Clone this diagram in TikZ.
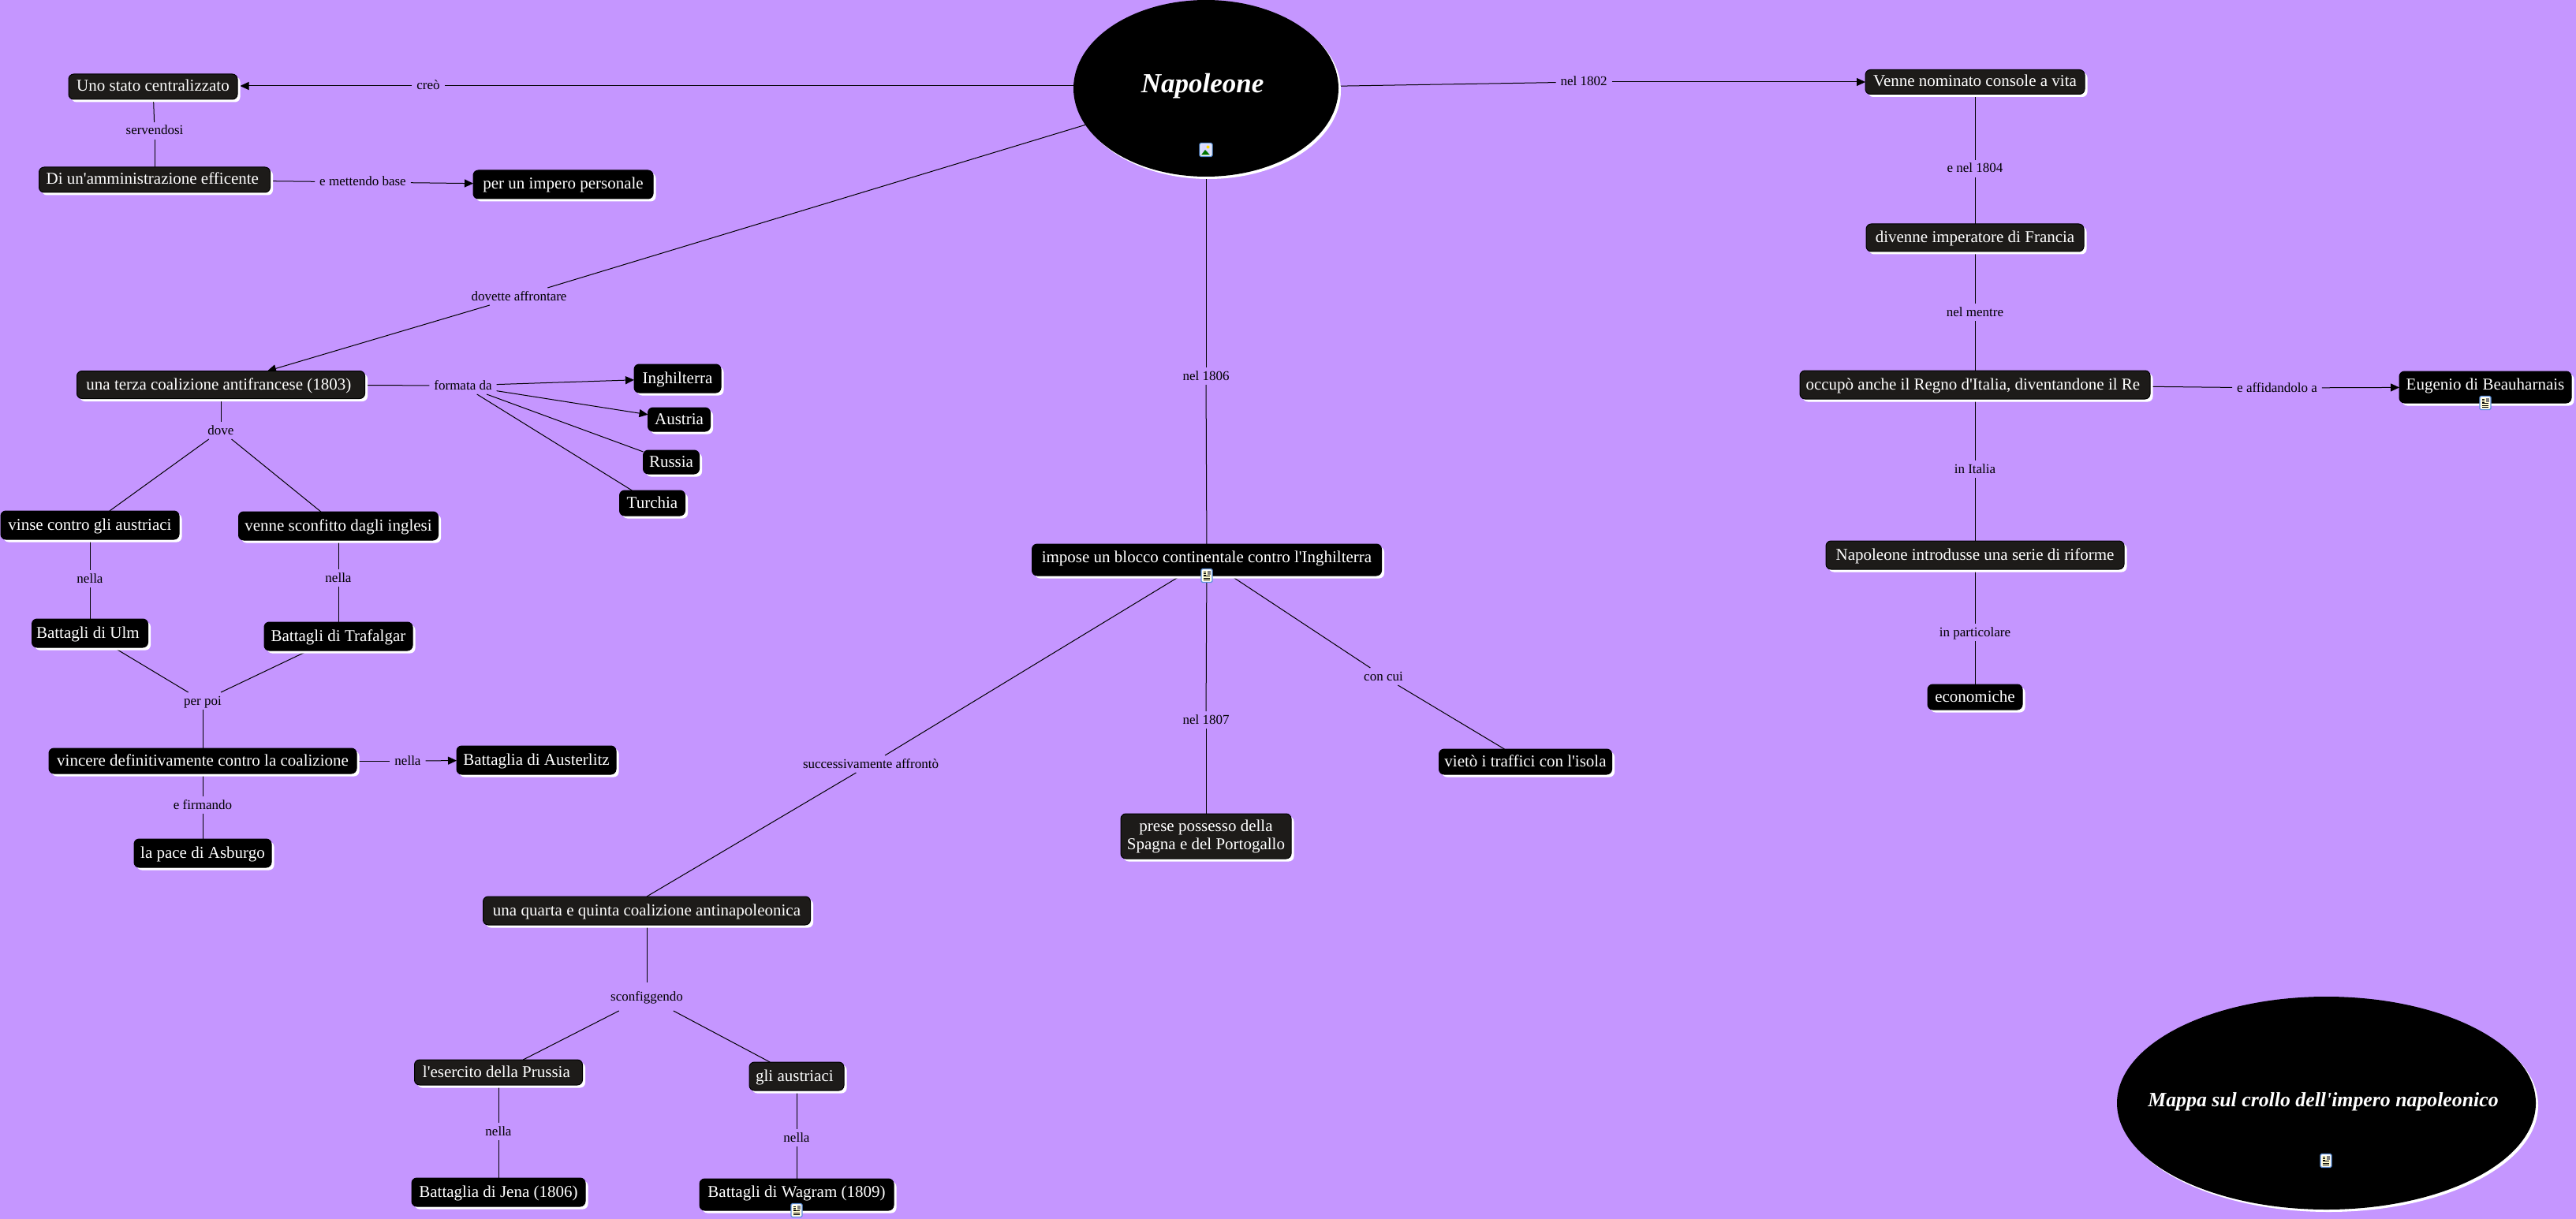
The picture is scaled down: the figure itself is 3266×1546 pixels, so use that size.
\documentclass[tikz,border=0pt]{standalone}
\usepackage{fontspec}
\setmainfont[Ligatures=TeXOff]{Liberation Serif}
\usepackage{xcolor}
\usetikzlibrary{arrows.meta,positioning,shapes.geometric,shadows,backgrounds}
\definecolor{mapbg}{HTML}{C596FF}
\definecolor{boxdark}{HTML}{1D1B19}
\definecolor{iconblue}{HTML}{5B8FD8}
\definecolor{iconcream}{HTML}{FFFBD0}
\newcommand{\DocIcon}[1]{%
\begin{scope}[shift={(#1)}]
\draw[iconblue, line width=1.2pt, fill=white, rounded corners=1.5pt] (-7,-8.5) rectangle (7,8.5);
\fill[iconcream] (-4.8,-6.5) rectangle (4.8,6.5);
\fill[gray] (0.5,-6) rectangle (4.5,-1);
\foreach \ly in {0.8,3,5.2} \draw[black, line width=0.8pt] (-4,\ly) -- (4,\ly);
\foreach \ly in {-5,-3,-1} \draw[black, line width=0.8pt] (-4,\ly) -- (-1,\ly);
\end{scope}}
\newcommand{\ImgIcon}[1]{%
\begin{scope}[shift={(#1)}]
\draw[iconblue, line width=1.2pt, fill=white, rounded corners=1.5pt] (-8,-8.5) rectangle (8,8.5);
\fill[blue!15] (-6,-6.5) rectangle (6,6.5);
\fill[green!45!black] (-6,6.5) -- (-1,0) -- (5,6.5) -- cycle;
\fill[yellow!80!orange] (2.5,-3.5) circle (2);
\end{scope}}

\begin{document}
\begin{tikzpicture}[
    x=1pt, y=-1pt,
    node distance=40pt,
    conbox/.style={rounded corners=6.5pt, align=center, text=white, inner sep=0pt, outer sep=0pt, font=\fontsize{21}{23}\selectfont, text height=17pt, text depth=5pt,
        general shadow={fill=white, draw=none, shadow xshift=3.5pt, shadow yshift=-3.5pt}},
    darkbox/.style={conbox, draw=black, line width=1pt, fill=boxdark},
    blackbox/.style={conbox, draw=black, line width=1pt, fill=black},
    bsize/.style 2 args={minimum width=#1pt, minimum height=#2pt},
    linklabel/.style={inner xsep=6pt, inner ysep=0pt, outer sep=0pt, minimum height=22pt, text=black, font=\fontsize{17}{19}\selectfont, text height=14pt, text depth=4pt},
    oval/.style={ellipse, fill=black, text=white, inner sep=0pt, outer sep=0pt,
        general shadow={fill=white, shadow xshift=3pt, shadow yshift=-3pt}},
    link/.style={line width=1pt, black},
    arrow/.style={link, -{Triangle[length=11pt, width=10pt]}}
]
\useasboundingbox (0,0) rectangle (3266,1546);

\node[oval, minimum width=336pt, minimum height=224pt, text height=30pt, text depth=18pt, font=\fontsize{35}{38}\bfseries\itshape\selectfont] (nap) at (1529,112) {Napoleone~~};
\node[oval, minimum width=531pt, minimum height=270pt, text height=23pt, text depth=14pt, font=\fontsize{25.8}{30}\bfseries\itshape\selectfont] (mappa) at (2949.5,1399) {\makebox[0pt]{Mappa sul crollo dell'impero napoleonico\hspace{8pt}}};
\coordinate (napwest) at (1361,109);

\node[darkbox, bsize={214}{32}] (uno) at (194,110) {Uno stato centralizzato};
\node[linklabel, below=29pt of uno, xshift=2pt] (servendosi) {servendosi};
\node[darkbox, bsize={293}{32}, below=35pt of servendosi] (amm) {Di un'amministrazione efficente~};
\node[linklabel] (mettendo) at (460,231) {e mettendo base};
\node[blackbox, bsize={228}{36}] (impero) at (714,234) {per un impero personale};
\node[linklabel] (creo) at (543,109) {creò};
\node[linklabel] (dovette) at (658,376) {dovette affrontare};

\node[darkbox, bsize={365}{35}] (terza) at (280,488) {una terza coalizione antifrancese (1803)~};
\node[linklabel, below=29.5pt of terza] (dove) {dove};
\node[linklabel] (formata) at (587,489) {formata da};
\node[blackbox, bsize={110}{36}] (inghilterra) at (859,480) {Inghilterra};
\node[blackbox, bsize={79}{30}] (austria) at (861,532) {Austria};
\node[blackbox, bsize={71}{30}] (russia) at (851,586) {Russia};
\node[blackbox, bsize={83}{32}] (turchia) at (827,638) {Turchia};

\node[blackbox, bsize={226}{36}] (vinse) at (114,666) {vinse contro gli austriaci};
\node[blackbox, bsize={253}{36}] (sconfitto) at (429,667) {venne sconfitto dagli inglesi};
\node[linklabel, below=39pt of vinse] (nellaulm) {nella};
\node[blackbox, bsize={147}{36}, below=40pt of nellaulm] (ulm) {Battagli di Ulm~};
\node[linklabel, below=37pt of sconfitto] (nellatraf) {nella};
\node[blackbox, bsize={188}{36}, below=45pt of nellatraf] (trafalgar) {Battagli di Trafalgar};
\node[linklabel] (perpoi) at (257,889) {per poi};
\node[blackbox, bsize={390}{32}, below=49pt of perpoi] (vincere) {vincere definitivamente contro la coalizione};
\node[linklabel, below=29pt of vincere] (firmando) {e firmando};
\node[blackbox, bsize={174}{36}, below=32pt of firmando] (pace) {la pace di Asburgo};
\node[linklabel] (nellaaust) at (517,965) {nella};
\node[blackbox, bsize={202}{36}] (austerlitz) at (680,964) {Battaglia di Austerlitz};

\node[linklabel] (nel1806) at (1529,477) {nel 1806};
\node[blackbox, bsize={443}{40}, text height=16pt, text depth=10pt] (blocco) at (1530,710) {impose un blocco continentale contro l'Inghilterra};
\node[linklabel] (nel1807) at (1529,913) {nel 1807};
\node[darkbox, bsize={216}{57}, below=108pt of nel1807, text height=, text depth=] (spagna) {prese possesso della\\Spagna e del Portogallo};
\node[linklabel] (concui) at (1754,858) {con cui};
\node[blackbox, bsize={219}{32}] (traffici) at (1934,966) {vietò i traffici con l'isola};
\node[linklabel] (successiv) at (1104,969) {successivamente affrontò};

\node[darkbox, bsize={415}{36}] (quarta) at (820,1155) {una quarta e quinta coalizione antinapoleonica};
\node[linklabel, below=73pt of quarta, minimum height=36pt] (sconfig) {sconfiggendo};
\node[darkbox, bsize={213}{32}] (prussia) at (632,1360) {l'esercito della Prussia~};
\node[darkbox, bsize={120}{36}] (gliaust) at (1010,1365) {gli austriaci~};
\node[linklabel, below=48pt of prussia] (nellajena) {nella};
\node[blackbox, bsize={220}{36}, below=48pt of nellajena] (jena) {Battaglia di Jena (1806)};
\node[linklabel, below=49pt of gliaust] (nellawag) {nella};
\node[blackbox, bsize={246}{40}, below=41pt of nellawag, text height=16pt, text depth=10pt] (wagram) {Battagli di Wagram (1809)};

\node[linklabel] (nel1802) at (2008,104) {nel 1802};
\node[darkbox, bsize={278}{31}] (console) at (2504,104) {Venne nominato console a vita};
\node[linklabel, below=83.5pt of console] (nel1804) {e nel 1804};
\node[darkbox, bsize={276}{35}, below=59pt of nel1804] (francia) {divenne imperatore di Francia};
\node[linklabel, below=66pt of francia] (mentre) {nel mentre};
\node[darkbox, bsize={444}{36}, below=63pt of mentre] (italia) {occupò anche il Regno d'Italia, diventandone il Re~};
\node[linklabel] (affidandolo) at (2887,492) {e affidandolo a};
\node[blackbox, bsize={218}{40}, text height=16pt, text depth=10pt] (eugenio) at (3151,491) {Eugenio di Beauharnais};
\node[linklabel, below=78pt of italia] (initalia) {in Italia};
\node[darkbox, bsize={378}{36}, below=80pt of initalia] (riforme) {Napoleone introdusse una serie di riforme};
\node[linklabel, below=69pt of riforme] (particolare) {in particolare};
\node[blackbox, bsize={120}{32}, below=55pt of particolare] (economiche) {economiche};

\begin{pgfonlayer}{background}
\fill[mapbg] (0,0) rectangle (3266,1546);
\draw[link] (napwest) -- (creo);
\draw[arrow, shorten >=3.5pt] (creo) -- (creo -| uno.east);
\draw[link] (uno) -- (servendosi);
\draw[link] (servendosi) -- (amm);
\draw[link] (amm) -- (mettendo);
\draw[arrow] (mettendo) -- (impero);
\draw[link] (nap) -- (dovette);
\draw[arrow] (dovette) -- (terza);
\draw[link] (terza) -- (formata);
\draw[arrow] (formata) -- (inghilterra);
\draw[arrow] (formata) -- (austria);
\draw[link] (formata) -- (russia);
\draw[link] (formata) -- (turchia);
\draw[link] (terza) -- (dove);
\draw[link] (dove) -- (vinse);
\draw[link] (dove) -- (sconfitto);
\draw[link] (vinse) -- (nellaulm);
\draw[link] (nellaulm) -- (ulm);
\draw[link] (sconfitto) -- (nellatraf);
\draw[link] (nellatraf) -- (trafalgar);
\draw[link] (ulm) -- (perpoi);
\draw[link] (trafalgar) -- (perpoi);
\draw[link] (perpoi) -- (vincere);
\draw[link] (vincere) -- (firmando);
\draw[link] (firmando) -- (pace);
\draw[link] (vincere) -- (nellaaust);
\draw[arrow] (nellaaust) -- (austerlitz);
\draw[link] (nap) -- (nel1806);
\draw[link] (nel1806) -- (blocco);
\draw[link] (blocco) -- (nel1807);
\draw[link] (nel1807) -- (spagna);
\draw[link] (blocco) -- (concui);
\draw[link] (concui) -- (traffici);
\draw[link] (blocco) -- (successiv);
\draw[link] (successiv) -- (quarta.north);
\draw[link] (quarta) -- (sconfig);
\draw[link] (sconfig) -- (prussia);
\draw[link] (sconfig) -- (gliaust);
\draw[link] (prussia) -- (nellajena);
\draw[link] (nellajena) -- (jena);
\draw[link] (gliaust) -- (nellawag);
\draw[link] (nellawag) -- (wagram);
\draw[link] (nap) -- (nel1802);
\draw[arrow] (nel1802) -- (console);
\draw[link] (console) -- (nel1804);
\draw[link] (nel1804) -- (francia);
\draw[link] (francia) -- (mentre);
\draw[link] (mentre) -- (italia);
\draw[link] (italia) -- (affidandolo);
\draw[arrow] (affidandolo) -- (eugenio);
\draw[link] (italia) -- (initalia);
\draw[link] (initalia) -- (riforme);
\draw[link] (riforme) -- (particolare);
\draw[link] (particolare) -- (economiche);
\end{pgfonlayer}

\ImgIcon{1529,190}
\DocIcon{blocco.south}
\DocIcon{wagram.south}
\DocIcon{eugenio.south}
\DocIcon{2949,1472}
\end{tikzpicture}
\end{document}
